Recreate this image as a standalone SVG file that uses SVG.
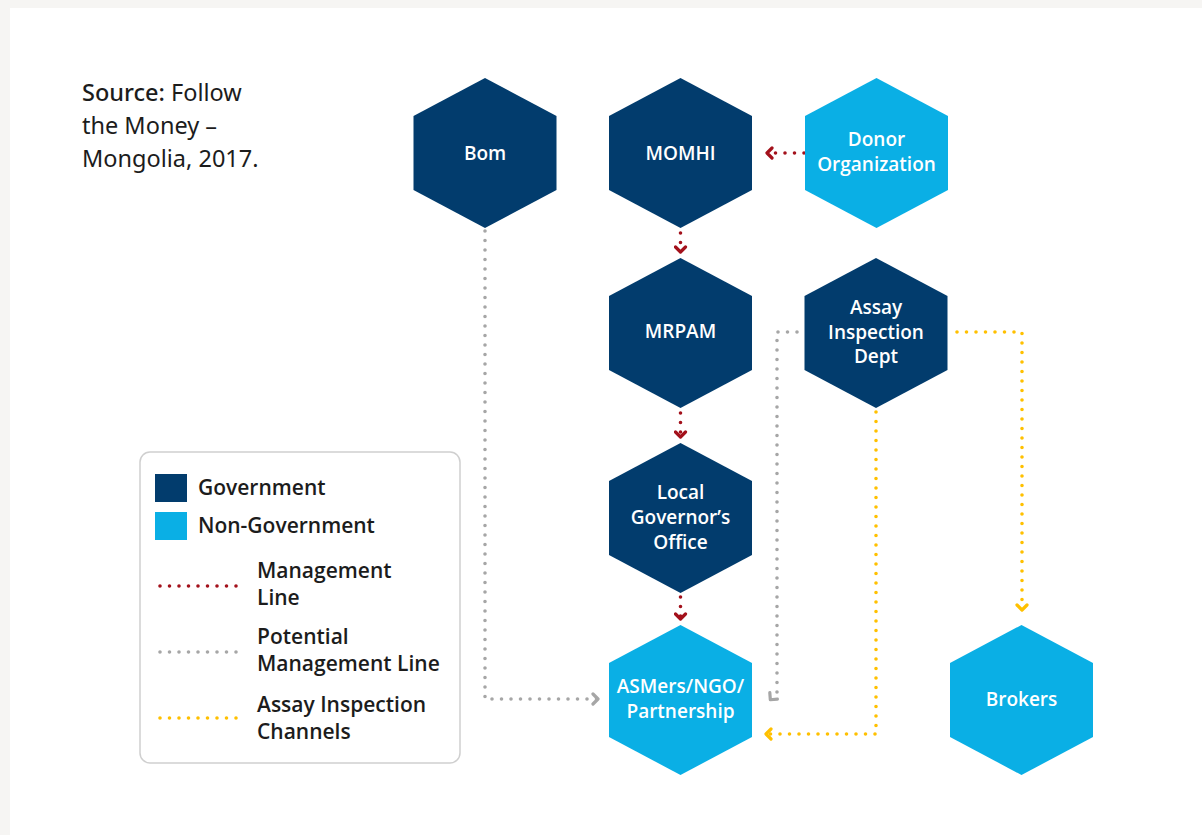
<svg xmlns="http://www.w3.org/2000/svg" width="1202" height="835" viewBox="0 0 1202 835">
<defs>
<style>
.gov{fill:#023c6d}
.non{fill:#0aafe5}
.nt{font-family:"Open Sans","Noto Sans",sans-serif;font-weight:600;font-size:19px;fill:#ffffff;text-anchor:middle}
.lt{font-family:"Open Sans","Noto Sans",sans-serif;font-weight:600;font-size:21px;fill:#1c1c1c}
.src{font-family:"Noto Sans","Open Sans",sans-serif;font-size:23.5px;fill:#1c1c1c}
.dot{fill:none;stroke-width:3.6;stroke-linecap:round;stroke-dasharray:0 9.5}
.red{stroke:#a3111b}
.gray{stroke:#a6a6a6}
.yel{stroke:#ffc000}
</style>
<marker id="mr" viewBox="-7 -7 14 14" markerWidth="14" markerHeight="14" markerUnits="userSpaceOnUse" refX="0" refY="0" orient="auto"><path d="M-4,-5 L1,0 L-4,5" fill="none" stroke="#a3111b" stroke-width="3.2" stroke-linecap="round" stroke-linejoin="round"/></marker>
<marker id="mg" viewBox="-7 -7 14 14" markerWidth="14" markerHeight="14" markerUnits="userSpaceOnUse" refX="0" refY="0" orient="auto"><path d="M-4,-5 L1,0 L-4,5" fill="none" stroke="#a6a6a6" stroke-width="3.2" stroke-linecap="round" stroke-linejoin="round"/></marker>
<marker id="my" viewBox="-7 -7 14 14" markerWidth="14" markerHeight="14" markerUnits="userSpaceOnUse" refX="0" refY="0" orient="auto"><path d="M-4,-5 L1,0 L-4,5" fill="none" stroke="#ffc000" stroke-width="3.2" stroke-linecap="round" stroke-linejoin="round"/></marker>
</defs>
<rect x="0" y="0" width="1202" height="835" fill="#f6f5f3"/>
<rect x="10" y="8" width="1192" height="827" fill="#ffffff"/>

<g id="source">
<text class="src" x="82" y="101"><tspan font-weight="500">Source:</tspan> Follow</text>
<text class="src" x="82" y="134">the Money –</text>
<text class="src" x="82" y="167">Mongolia, 2017.</text>
</g>

<g id="connectors">
<path class="dot red" d="M804,153 H768" marker-end="url(#mr)"/>
<path class="dot red" d="M680.5,233 V251" marker-end="url(#mr)"/>
<path class="dot red" d="M680.5,413 V436" marker-end="url(#mr)"/>
<path class="dot red" d="M680.5,597 V618" marker-end="url(#mr)"/>
<path class="dot gray" d="M485,231 V699 H597" marker-end="url(#mg)"/>
<path class="dot gray" d="M797,332 H777 V692 L771,699" marker-end="url(#mg)"/>
<path class="dot yel" d="M957,332 H1022 V609" marker-end="url(#my)"/>
<path class="dot yel" d="M876,412 V734 H767" marker-end="url(#my)"/>
</g>

<g id="node-bom">
<polygon class="gov" points="485,78 556.5,116 556.5,190 485,228 413.5,190 413.5,116"/>
<text class="nt" x="485" y="160">Bom</text>
</g>
<g id="node-momhi">
<polygon class="gov" points="680.5,78 752,116 752,190 680.5,228 609,190 609,116"/>
<text class="nt" x="680.5" y="160">MOMHI</text>
</g>
<g id="node-donor">
<polygon class="non" points="876.5,78 948,116 948,190 876.5,228 805,190 805,116"/>
<text class="nt" x="876.5" y="146">Donor</text>
<text class="nt" x="876.5" y="171">Organization</text>
</g>
<g id="node-mrpam">
<polygon class="gov" points="680.5,258 752,296 752,370 680.5,408 609,370 609,296"/>
<text class="nt" x="680.5" y="338">MRPAM</text>
</g>
<g id="node-assay">
<polygon class="gov" points="876,258 947.5,296 947.5,370 876,408 804.5,370 804.5,296"/>
<text class="nt" x="876" y="314">Assay</text>
<text class="nt" x="876" y="339">Inspection</text>
<text class="nt" x="876" y="363">Dept</text>
</g>
<g id="node-local">
<polygon class="gov" points="680.5,443 752,481 752,555 680.5,593 609,555 609,481"/>
<text class="nt" x="680.5" y="499">Local</text>
<text class="nt" x="680.5" y="524">Governor’s</text>
<text class="nt" x="680.5" y="549">Office</text>
</g>
<g id="node-asmers">
<polygon class="non" points="680.5,625 752,663 752,737 680.5,775 609,737 609,663"/>
<text class="nt" x="680.5" y="693">ASMers/NGO/</text>
<text class="nt" x="680.5" y="718">Partnership</text>
</g>
<g id="node-brokers">
<polygon class="non" points="1021.5,625 1093,663 1093,737 1021.5,775 950,737 950,663"/>
<text class="nt" x="1021.5" y="706">Brokers</text>
</g>

<g id="legend">
<rect x="140" y="452" width="320" height="311" rx="10" ry="10" fill="#ffffff" stroke="#cfcfcf" stroke-width="1.5"/>
<rect x="155" y="474" width="32" height="28" class="gov"/>
<text class="lt" x="198" y="495">Government</text>
<rect x="155" y="512" width="32" height="28" class="non"/>
<text class="lt" x="198" y="533">Non-Government</text>
<path class="dot red" d="M160,586 H237"/>
<text class="lt" x="257" y="578">Management</text>
<text class="lt" x="257" y="605">Line</text>
<path class="dot gray" d="M160,652 H237"/>
<text class="lt" x="257" y="644">Potential</text>
<text class="lt" x="257" y="671">Management Line</text>
<path class="dot yel" d="M160,718 H237"/>
<text class="lt" x="257" y="712">Assay Inspection</text>
<text class="lt" x="257" y="739">Channels</text>
</g>
</svg>
